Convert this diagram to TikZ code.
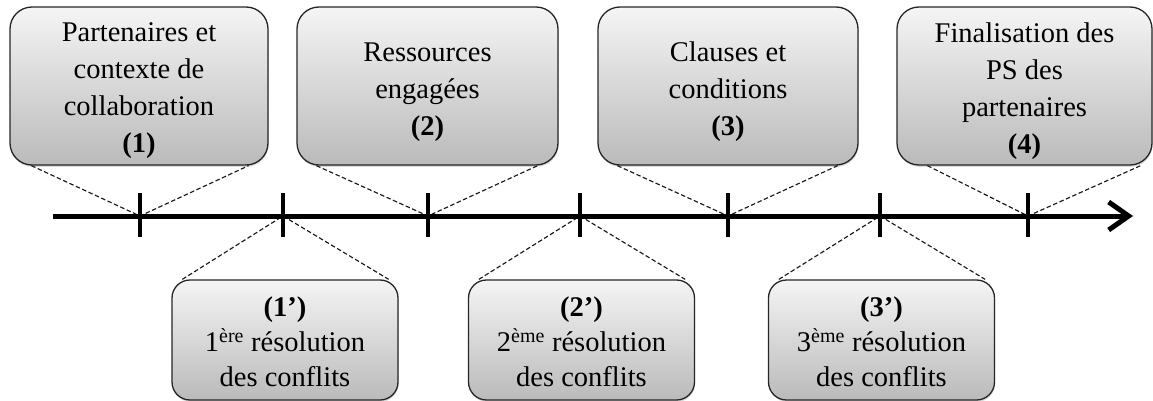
\documentclass[tikz,border=0pt]{standalone}
\usepackage{fontspec}
\setmainfont{Liberation Serif}
\usetikzlibrary{arrows.meta,calc,shadows}

\begin{document}
\begin{tikzpicture}[x=1pt,y=-1pt,
  phasebox/.style={draw=black!85, line width=1.3pt, rounded corners=22pt,
    top color=black!4, bottom color=black!27, inner sep=0pt,
    drop shadow={shadow xshift=0.6pt, shadow yshift=-1.8pt, opacity=0.3}},
  topbox/.style={phasebox, minimum height=158pt},
  lowbox/.style={phasebox, rounded corners=18pt, minimum height=120pt, minimum width=226pt},
  toptext/.style={align=center, inner sep=0pt, font=\fontsize{28.5}{37}\selectfont},
  lowtext/.style={align=center, inner sep=0pt, font=\fontsize{28.5}{35}\selectfont},
  axisline/.style={line width=5pt, -{Straight Barb[length=20pt, width=28pt]}},
  tickmark/.style={line width=4.5pt},
  lead/.style={line width=1.15pt, black!90, dash pattern=on 4.5pt off 2.5pt}
]
\useasboundingbox (0,0) rectangle (1153,401);

% phase boxes above the time line
\node[topbox, minimum width=258pt] (b1) at (139,86) {};
\node[topbox, minimum width=261pt] (b2) at (427.5,86) {};
\node[topbox, minimum width=260pt] (b3) at (728,86) {};
\node[topbox, minimum width=255pt] (b4) at (1024.5,86) {};

% conflict resolution boxes below the time line
\node[lowbox] (c1) at (285,340) {};
\node[lowbox] (c2) at (581.5,340) {};
\node[lowbox] (c3) at (881.5,340) {};

% texts
\node[toptext] (t1) at (139,91) {Partenaires et\\contexte de\\collaboration\\\textbf{(1)}};
\node[toptext] (t2) at (427.5,92) {Ressources\\engagées\\\textbf{(2)}};
\node[toptext] (t3) at (728,92) {Clauses et\\conditions\\\textbf{(3)}};
\node[toptext] (t4) at (1024.5,91) {Finalisation des\\PS des\\partenaires\\\textbf{(4)}};
\node[lowtext] (u1) at (285,342) {\textbf{(1’)}\\1\textsuperscript{ère} résolution\\des conflits};
\node[lowtext] (u2) at (581.5,342) {\textbf{(2’)}\\2\textsuperscript{ème} résolution\\des conflits};
\node[lowtext] (u3) at (881.5,342) {\textbf{(3’)}\\3\textsuperscript{ème} résolution\\des conflits};

% time line and its marks
\coordinate (a0) at (53,216);
\coordinate (a1) at (1133,216);
\coordinate (k1) at (140,216);
\coordinate (k2) at (283,216);
\coordinate (k3) at (428,216);
\coordinate (k4) at (580,216);
\coordinate (k5) at (728,216);
\coordinate (k6) at (880,216);
\coordinate (k7) at (1028,216);

% dashed leaders from the boxes to their marks
\draw[lead] ($(b1.south west)+(22,0)$) -- (k1) -- ($(b1.south east)+(-20,0)$);
\draw[lead] ($(b2.south west)+(20,0)$) -- (k3) -- ($(b2.south east)+(-21,0)$);
\draw[lead] ($(b3.south west)+(20,0)$) -- (k5) -- ($(b3.south east)+(-21,0)$);
\draw[lead] ($(b4.south west)+(31,0)$) -- (k7) -- ($(b4.south east)+(-12,0)$);
\draw[lead] ($(c1.north west)+(11,0)$) -- (k2) -- ($(c1.north east)+(-10,0)$);
\draw[lead] ($(c2.north west)+(11,0)$) -- (k4) -- ($(c2.north east)+(-10,0)$);
\draw[lead] ($(c3.north west)+(11,0)$) -- (k6) -- ($(c3.north east)+(-10,0)$);

\draw[axisline] (a0) -- (a1);
\foreach \k in {k1,k2,k3,k4,k5,k6,k7}
  \draw[tickmark] ($(\k)+(0,-23)$) -- ($(\k)+(0,21)$);
\end{tikzpicture}
\end{document}
